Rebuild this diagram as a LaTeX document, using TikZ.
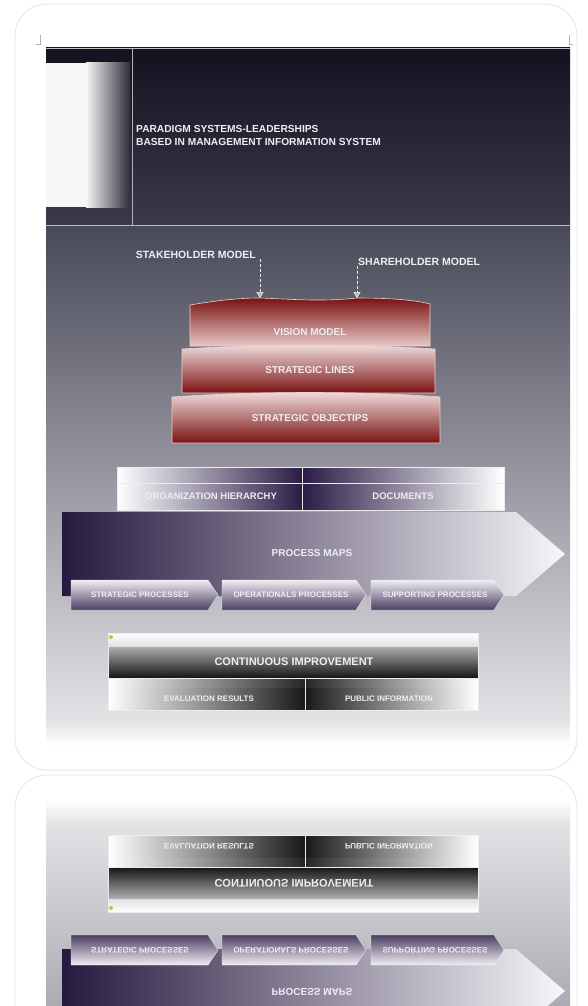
\documentclass[tikz,border=0pt]{standalone}
\usepackage{fontspec}
\setmainfont{Liberation Sans}
\usetikzlibrary{arrows.meta}
\definecolor{hdtop}{HTML}{121220}
\definecolor{hdbot}{HTML}{3A3A4B}
\definecolor{bdtop}{HTML}{484958}
\definecolor{bdmid}{HTML}{A2A2AA}
\definecolor{bdbot}{HTML}{E3E3E6}
\definecolor{rdark}{HTML}{7A1212}
\definecolor{rmid}{HTML}{B04444}
\definecolor{rlight}{HTML}{F2DEDE}
\definecolor{pdark}{HTML}{2A1C46}
\definecolor{pmid}{HTML}{7A6E92}
\definecolor{plight}{HTML}{F0EEF4}
\definecolor{txt}{HTML}{EEEEF2}
\definecolor{framec}{HTML}{E4E4E4}
\tikzset{
  lbl/.style={text=txt, font=\bfseries\fontsize{#1}{#1}\selectfont, inner sep=0pt},
  lbl/.default=9,
  redbox/.style={draw=white!75!rmid, line width=0.6pt},
  chevsh/.style={top color=plight, middle color=pmid!80!white, bottom color=pdark!85!white, draw=white!85!pmid, line width=0.4pt},
  thinedge/.style={draw=white!85!gray, line width=0.5pt},
  darr/.style={draw=white!90!gray, densely dashed, line width=0.7pt,
    -{Triangle[length=6pt,width=7pt,fill=gray!60,line width=0.6pt]}},
}
\newcommand\bodypanel{%
  \shade[top color=bdtop, middle color=bdmid, bottom color=bdbot] (46,225) rectangle (570,720);
  \shade[top color=bdbot, bottom color=white] (46,720) rectangle (570,746);
}
\newcommand\lowerpart[1]{%
  % process map arrow
  \shade[left color=pdark!90!black, middle color=pmid, right color=white!94!pmid]
    (62,512) -- (516,512) -- (565,554) -- (516,596) -- (62,596) -- cycle;
  \node[lbl=10] (#1maps) at (312,553) {PROCESS MAPS};
  % chevrons
  \shade[chevsh] (71,580) -- (208,580) -- (218,595) -- (208,610) -- (71,610) -- cycle;
  \node[lbl=8] (#1strat) at (140,595) {STRATEGIC PROCESSES};
  \shade[chevsh] (222,580) -- (356,580) -- (366,595) -- (356,610) -- (222,610) -- cycle;
  \node[lbl=8] (#1oper) at (291,595) {OPERATIONALS PROCESSES};
  \shade[chevsh] (371,580) -- (494,580) -- (504,595) -- (494,610) -- (371,610) -- cycle;
  \node[lbl=8] (#1supp) at (435,595) {SUPPORTING PROCESSES};
  % continuous improvement
  \shade[top color=white, bottom color=gray!25] (108,633) rectangle (478,647);
  \shade[top color=gray!65, middle color=gray!70!black, bottom color=black!92] (108,647) rectangle (478,678);
  \node[lbl=11] (#1cont) at (294,662) {CONTINUOUS IMPROVEMENT};
  \shade[left color=white, right color=black!85] (108,678) rectangle (305,688);
  \shade[left color=black!85, right color=white] (305,678) rectangle (478,688);
  \shade[left color=white, middle color=gray!60, right color=black!90] (108,688) rectangle (305,710);
  \shade[left color=black!90, middle color=gray!60, right color=white] (305,688) rectangle (478,710);
  \draw[thinedge] (108,633) rectangle (478,710) (108,678) -- (478,678) (305,678) -- (305,710);
  \node[lbl=8] (#1eval) at (209,699) {EVALUATION RESULTS};
  \node[lbl=8] (#1publ) at (389,699) {PUBLIC INFORMATION};
  \fill[yellow!70!green!80!gray] (111,637) circle (2);
}
\begin{document}
\begin{tikzpicture}[x=1pt,y=-1pt]
\useasboundingbox (0,0) rectangle (588,1006);
\fill[white] (0,0) rectangle (588,1006);
% card frames
\draw[framec, line width=0.8pt, rounded corners=32pt] (15,4) rectangle (577,770);
\draw[framec, line width=0.8pt, rounded corners=32pt] (15,775) rectangle (577,1100);
% crop marks
\draw[gray!60, line width=0.6pt] (40,35) -- (40,44) -- (36,44);
\draw[gray!60, line width=0.6pt] (569,35) -- (569,44) -- (573,44);
% header
\shade[top color=hdtop, bottom color=hdbot] (46,48) rectangle (570,225);
\draw[gray!50, line width=0.5pt] (46,48) -- (570,48);
\fill[white!93!gray] (46,63) rectangle (86,207);
\shade[left color=white!93!gray, middle color=gray!70, right color=hdbot!80!black] (86,63) rectangle (130,207);
\draw[gray!60, line width=0.5pt] (132,48) -- (132,225);
\node[lbl, anchor=west, align=left, font=\bfseries\fontsize{10.2}{13}\selectfont] (title) at (136,135)
  {PARADIGM SYSTEMS-LEADERSHIPS\\BASED IN MANAGEMENT INFORMATION SYSTEM};
% body
\bodypanel
\draw[gray!55, line width=0.6pt] (46,225) -- (570,225);
% stakeholder / shareholder
\node[lbl=10.5, anchor=east] (stake) at (256,255) {STAKEHOLDER MODEL};
\node[lbl=10.5, anchor=west] (share) at (358,262) {SHAREHOLDER MODEL};
% red stack
\shade[redbox, top color=rdark, middle color=rmid, bottom color=rlight!85!rmid]
  (190,346) -- (190,305) .. controls (220,300) and (240,298) .. (260,298)
  .. controls (290,299) and (320,302) .. (357,298) .. controls (390,298) and (415,300) .. (430,304)
  -- (430,346) -- cycle;
\coordinate (visA) at (260,298);
\coordinate (visB) at (357,298);
\node[lbl=10] (vision) at (310,332) {VISION MODEL};
\shade[redbox, top color=rlight, middle color=rmid!75!rlight, bottom color=rdark]
  (182,393) -- (182,349) .. controls (260,344) and (360,344) .. (435,349) -- (435,393) -- cycle;
\node[lbl=10] (lines) at (310,370) {STRATEGIC LINES};
\shade[redbox, top color=rlight, middle color=rmid!75!rlight, bottom color=rdark]
  (172,443) -- (172,397) .. controls (260,391) and (360,391) .. (440,397) -- (440,443) -- cycle;
\node[lbl=10] (objs) at (310,418) {STRATEGIC OBJECTIPS};
\draw[darr] (stake.south east -| visA) -- (visA);
\draw[darr] (share.south west -| visB) -- (visB);
% organization / documents
\shade[left color=white, right color=pdark] (117,467) rectangle (302,483);
\shade[left color=pdark, right color=white] (302,467) rectangle (504,483);
\shade[left color=white, middle color=pmid!70!white, right color=pdark] (117,483) rectangle (302,510);
\shade[left color=pdark, middle color=pmid!70!white, right color=white] (302,483) rectangle (504,510);
\draw[thinedge] (117,467) rectangle (504,510) (117,483) -- (504,483) (302,467) -- (302,510);
\node[lbl=9.5] (org) at (211,496) {ORGANIZATION HIERARCHY};
\node[lbl=9.5] (docs) at (403,496) {DOCUMENTS};
% lower part
\lowerpart{m}
% reflection
\begin{scope}[transform canvas={cm={1,0,0,-1,(0pt,-1545pt)}}]
  \clip (0,540) rectangle (588,772.5);
  \bodypanel
  \lowerpart{r}
\end{scope}
\end{tikzpicture}
\end{document}
